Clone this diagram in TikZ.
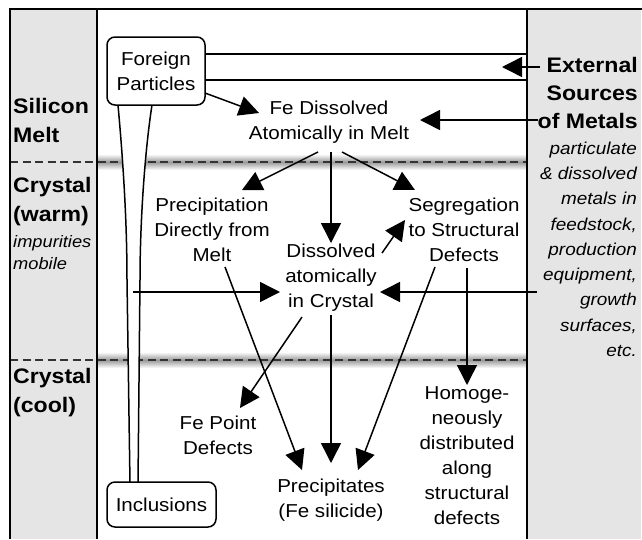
\documentclass[tikz,border=0pt]{standalone}
\usepackage{fontspec}
\setmainfont[FakeStretch=1.1]{Liberation Sans}
\usetikzlibrary{arrows.meta,calc}
\definecolor{panel}{RGB}{229,229,229}
\tikzset{
  txt/.style={align=center, inner sep=0pt, font=\fontsize{18.7}{25}\selectfont,
    execute at begin node=\strut, execute at end node=\strut},
  lbl/.style={align=left, inner sep=0pt, font=\bfseries\fontsize{21}{29}\selectfont,
    execute at begin node=\strut, execute at end node=\strut},
  extlbl/.style={align=right, inner sep=0pt, font=\bfseries\fontsize{21}{28}\selectfont,
    execute at begin node=\strut, execute at end node=\strut},
  itl/.style={inner sep=0pt, font=\itshape\fontsize{16.6}{22}\selectfont,
    execute at begin node=\strut, execute at end node=\strut},
  itr/.style={align=right, inner sep=0pt, font=\itshape\fontsize{17.2}{25.25}\selectfont,
    execute at begin node=\strut, execute at end node=\strut},
  rbox/.style={draw, line width=1.5pt, rounded corners=8pt, fill=white, inner sep=0pt,
    align=center, font=\fontsize{18.7}{25}\selectfont},
  arr/.style={-{Triangle[length=20pt,width=20pt]}, line width=1.5pt},
  thin/.style={line width=1.5pt},
  dashln/.style={dash pattern=on 8pt off 4.5pt, line width=1.8pt, black!80},
}
\begin{document}
\begin{tikzpicture}[x=1pt,y=-1pt]
\useasboundingbox (0,0) rectangle (642,539);
% panels
\fill[panel] (10,9) rectangle (97,539);
\fill[panel] (527,9) rectangle (641,539);
% shadows under dashed lines
\foreach \yy in {162,360}{
  \shade[top color=white, bottom color=black!40] (97,\yy-8) rectangle (527,\yy);
  \shade[top color=black!40, bottom color=white] (97,\yy) rectangle (527,\yy+8);
  \draw[dashln] (10,\yy) -- (527,\yy);
}
% funnel
\fill[white] (118,105) .. controls (123,160) and (127,220) .. (127,280) -- (130,484)
  -- (138,484) -- (140,280) .. controls (140,220) and (145,150) .. (152,105) -- cycle;
\draw[thin] (118,105) .. controls (123,160) and (127,220) .. (127,280) -- (130,484);
\draw[thin] (152,105) .. controls (145,150) and (140,220) .. (140,280) -- (138,484);
% frame
\draw[line width=2pt] (10,539) -- (10,9) -- (642,9);
\draw[line width=1.6pt] (97,9) -- (97,539);
\draw[line width=1.6pt] (527,9) -- (527,539);
% nodes
\node[rbox, minimum width=98pt, minimum height=68pt] (fp) at (156,71) {Foreign\\Particles};
\node[rbox, minimum width=109pt, minimum height=45pt] (incl) at (161.5,504.5) {Inclusions};
\node[txt] (fe) at (329,124) {Fe Dissolved\\Atomically in Melt};
\node[txt] (prec) at (212,233) {Precipitation\\Directly from\\Melt};
\node[txt] (seg) at (464,233) {Segregation\\to Structural\\Defects};
\node[txt] (dac) at (331,279) {Dissolved\\atomically\\in Crystal};
\node[txt] (fpd) at (218,439) {Fe Point\\Defects};
\node[txt] (pcp) at (331,502) {Precipitates\\(Fe silicide)};
\node[txt] (hom) at (467,459) {Homoge-\\neously\\distributed\\along\\structural\\defects};
\node[lbl, anchor=west] (sm) at (13,124.5) {Silicon\\Melt};
\node[lbl, anchor=west] (cw) at (13,204) {Crystal\\(warm)};
\node[itl, align=left, anchor=west] (imp) at (13,255.5) {impurities\\mobile};
\node[lbl, anchor=west] (cc) at (13,395) {Crystal\\(cool)};
\node[extlbl, anchor=east] (ext) at (638,97) {External\\Sources\\of Metals};
\node[itr, anchor=east] (src) at (637,253) {particulate\\\& dissolved\\metals in\\feedstock,\\production\\equipment,\\growth\\surfaces,\\etc.};
% tube from foreign particles
\coordinate (tubeT) at (527,54);
\coordinate (tubeB) at (527,80);
\coordinate (tubein) at (502,67);
\draw[thin] ($(fp)+(49,-17)$) -- (tubeT);
\draw[thin] ($(fp)+(49,9)$) -- (tubeB);
% side inputs
\coordinate (lin) at (133,292);
\coordinate (rin) at (537,292);
% arrows
\draw[arr] ($(ext.east)+(-98,-30)$) -- (tubein);
\draw[arr] ($(ext.east)+(-100,23)$) -- ($(fe)+(91,-4)$);
\draw[arr] ($(fp)+(49,22)$) -- ($(fe)+(-70,-11)$);
\draw[arr] ($(fe)+(-11,28)$) -- ($(prec)+(30,-43)$);
\draw[arr] ($(fe)+(2,28)$) -- ($(dac)+(0,-36)$);
\draw[arr] ($(fe)+(13,28)$) -- ($(seg)+(-49,-43)$);
\draw[arr] ($(dac)+(51,-26)$) -- ($(seg)+(-59,-13)$);
\draw[arr] (lin) -- ($(dac)+(-51,13)$);
\draw[arr] (rin) -- ($(dac)+(49,13)$);
\draw[arr] ($(prec)+(13,34)$) -- ($(pcp)+(-29,-32)$);
\draw[arr] ($(dac)+(0,36)$) -- ($(pcp)+(0,-39)$);
\draw[arr] ($(seg)+(-29,34)$) -- ($(pcp)+(27,-32)$);
\draw[arr] ($(dac)+(-29,38)$) -- ($(fpd)+(22,-31)$);
\draw[arr] ($(seg)+(3,35)$) -- ($(hom)+(0,-74)$);
\end{tikzpicture}
\end{document}
